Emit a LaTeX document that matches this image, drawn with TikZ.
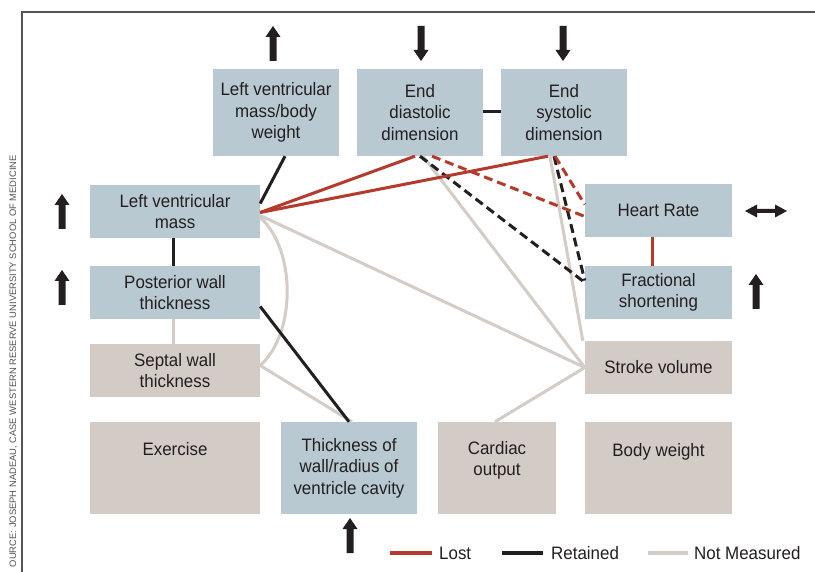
\documentclass[tikz,border=0pt]{standalone}
\usepackage{fontspec}
\setmainfont{Liberation Sans}
\newfontfamily\condfont[FakeStretch=0.94]{Liberation Sans}
\definecolor{boxblue}{HTML}{B8C9D2}
\definecolor{boxgray}{HTML}{D3CBC6}
\definecolor{lostred}{HTML}{B43A2B}
\definecolor{ink}{HTML}{231F20}
\definecolor{nmgray}{HTML}{D3CCC7}
\definecolor{framegray}{HTML}{555555}
\tikzset{
  bx/.style={fill=boxblue, inner sep=0pt, align=center, text=ink, font=\condfont\fontsize{18}{21.5}\selectfont},
  gbx/.style={bx, fill=boxgray},
  txt/.style={inner sep=0pt, align=center, text=ink, font=\condfont\fontsize{18}{21.5}\selectfont},
  lost/.style={draw=lostred, line width=3pt},
  kept/.style={draw=ink, line width=3pt},
  nm/.style={draw=nmgray, line width=3pt},
  dsh/.style={dash pattern=on 9pt off 5pt},
  uarr/.pic={\fill[ink] (0,0) -- (7.5,11) -- (3.5,11) -- (3.5,35) -- (-3.5,35) -- (-3.5,11) -- (-7.5,11) -- cycle;},
  darr/.pic={\fill[ink] (0,0) -- (7.5,-11) -- (3.5,-11) -- (3.5,-35) -- (-3.5,-35) -- (-3.5,-11) -- (-7.5,-11) -- cycle;},
  harr/.pic={\fill[ink] (-21,0) -- (-9,-6.5) -- (-9,-2) -- (9,-2) -- (9,-6.5) -- (21,0) -- (9,6.5) -- (9,2) -- (-9,2) -- (-9,6.5) -- cycle;}
}
\begin{document}
\begin{tikzpicture}[x=1pt,y=-1pt]
\useasboundingbox (0,0) rectangle (815,572);
\clip (0,0) rectangle (815,572);
\fill[white] (0,0) rectangle (815,572);
% frame and source
\draw[framegray, line width=1.2pt] (815,12) -- (22,12) -- (22,572);
\node[rotate=90, anchor=east, inner sep=0pt, text=framegray, font=\fontsize{9.4}{9.4}\selectfont] (src) at (13.5,155) {OURCE: JOSEPH NADEAU, CASE WESTERN RESERVE UNIVERSITY SCHOOL OF MEDICINE};
% boxes
\node[bx, minimum width=126pt, minimum height=87pt] (lvmbw) at (276,112.5) {Left ventricular\\mass/body\\weight};
\node[bx, minimum width=126pt, minimum height=87pt] (edd) at (420,112.5) {End\\diastolic\\dimension};
\node[bx, minimum width=126pt, minimum height=87pt] (esd) at (564,112.5) {End\\systolic\\dimension};
\node[bx, minimum width=170pt, minimum height=53pt] (lvm) at (175,211.5) {Left ventricular\\mass};
\node[bx, minimum width=170pt, minimum height=53pt] (pwt) at (175,292.5) {Posterior wall\\thickness};
\node[gbx, minimum width=170pt, minimum height=53pt] (swt) at (175,370.5) {Septal wall\\thickness};
\node[gbx, minimum width=170pt, minimum height=92pt] (exer) at (175,468) {};
\node[bx, minimum width=136pt, minimum height=92pt] (thk) at (349,468) {Thickness of\\wall/radius of\\ventricle cavity};
\node[gbx, minimum width=118pt, minimum height=92pt] (co) at (497,468) {};
\node[gbx, minimum width=147pt, minimum height=92pt] (bw) at (658.5,468) {};
\node[gbx, minimum width=147pt, minimum height=53pt] (sv) at (658.5,367.5) {Stroke volume};
\node[bx, minimum width=147pt, minimum height=53pt] (fs) at (658.5,292.5) {Fractional\\shortening};
\node[bx, minimum width=147pt, minimum height=53pt] (hr) at (658.5,210.5) {Heart Rate};
\node[txt, anchor=north] (exert) at ([yshift=-20pt]exer.north) {Exercise};
\node[txt, anchor=north] (cot) at ([yshift=-19pt]co.north) {Cardiac\\output};
\node[txt, anchor=north] (bwt) at ([yshift=-21pt]bw.north) {Body weight};
% not measured
\draw[nm] ([xshift=-2pt]pwt.south) -- ([xshift=-2pt]swt.north);
\draw[nm] ([yshift=-6pt]lvm.east) .. controls +(36,32) and +(36,-32) .. ([yshift=5pt]swt.east);
\draw[nm] ([yshift=-4pt]lvm.east) -- (sv.west);
\draw[nm] ([xshift=3pt]edd.south) -- (sv.west);
\draw[nm] ([xshift=-14pt]esd.south) -- ([xshift=-2pt]sv.north west);
\draw[nm] ([xshift=-2pt]co.north) -- (sv.west);
\draw[nm] ([yshift=5pt]swt.east) -- ([xshift=3pt]thk.north);
% retained
\draw[kept] ([xshift=9pt]lvmbw.south) -- ([yshift=8pt]lvm.east);
\draw[kept] ([yshift=1pt]edd.east) -- ([yshift=1pt]esd.west);
\draw[kept] ([xshift=-2pt]lvm.south) -- ([xshift=-2pt]pwt.north);
\draw[kept] ([yshift=-14pt]pwt.east) -- (thk.north);
\draw[kept, dsh] (edd.south) -- ([yshift=10pt]fs.west);
\draw[kept, dsh] ([xshift=-10pt]esd.south) -- ([yshift=12pt]fs.west);
% lost
\draw[lost] ([yshift=-1pt]lvm.east) -- ([xshift=-5pt]edd.south);
\draw[lost] ([yshift=-1pt]lvm.east) -- ([xshift=-16pt]esd.south);
\draw[lost, dsh] ([xshift=12pt]edd.south) -- ([yshift=-6pt]hr.west);
\draw[lost, dsh] ([xshift=-9pt]esd.south) -- ([yshift=6pt]hr.west);
\draw[lost] ([xshift=-6pt]hr.south) -- ([xshift=-6pt]fs.north);
% trend arrows
\pic at (273,26) {uarr};
\pic at (421,61) {darr};
\pic at (563,61) {darr};
\pic at (62,194) {uarr};
\pic at (62,270) {uarr};
\pic at (766,211) {harr};
\pic at (756,274) {uarr};
\pic at (350,518) {uarr};
% legend
\coordinate (la1) at (390,553);
\coordinate (la2) at (432,553);
\coordinate (lb1) at (502,553);
\coordinate (lb2) at (543,553);
\coordinate (lc1) at (648,553);
\coordinate (lc2) at (688,553);
\draw[lost, line width=4pt] (la1) -- (la2);
\draw[kept, line width=4pt] (lb1) -- (lb2);
\draw[nm, line width=4pt] (lc1) -- (lc2);
\node[txt, anchor=base west] (lostl) at (439,559) {Lost};
\node[txt, anchor=base west] (keptl) at (551,559) {Retained};
\node[txt, anchor=base west] (nml) at (694,559) {Not Measured};
\end{tikzpicture}
\end{document}
